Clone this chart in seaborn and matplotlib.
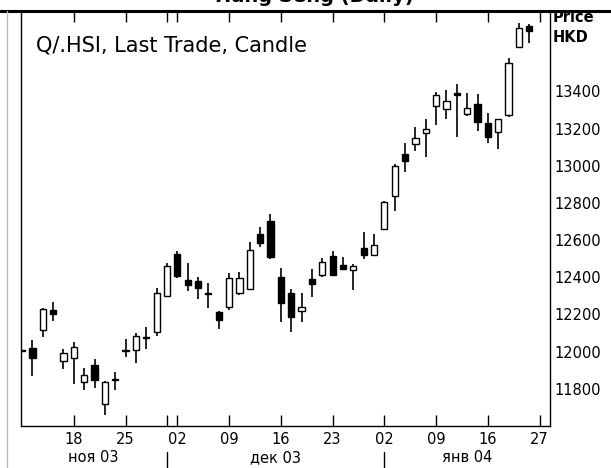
import matplotlib
matplotlib.use("Agg")
import matplotlib.pyplot as plt
import matplotlib.transforms as mtransforms
from matplotlib.lines import Line2D
import pandas as pd
import seaborn as sns

# trading days shown on the axis (last one has no candle yet)
trading_days = [
    "2003-11-11", "2003-11-12", "2003-11-13", "2003-11-14", "2003-11-17",
    "2003-11-18", "2003-11-19", "2003-11-20", "2003-11-21", "2003-11-24",
    "2003-11-25", "2003-11-26", "2003-11-27", "2003-11-28",
    "2003-12-01", "2003-12-02", "2003-12-03", "2003-12-04", "2003-12-05",
    "2003-12-08", "2003-12-09", "2003-12-10", "2003-12-11", "2003-12-12",
    "2003-12-15", "2003-12-16", "2003-12-17", "2003-12-18", "2003-12-19",
    "2003-12-22", "2003-12-23", "2003-12-24", "2003-12-29", "2003-12-30",
    "2003-12-31",
    "2004-01-02", "2004-01-05", "2004-01-06", "2004-01-07", "2004-01-08",
    "2004-01-09", "2004-01-12", "2004-01-13", "2004-01-14", "2004-01-15",
    "2004-01-16", "2004-01-19", "2004-01-20", "2004-01-21", "2004-01-26",
    "2004-01-27",
]

opens = [12006, 12021, 12115, 12226, 11952, 11968, 11839, 11930, 11717, 11855,
         12008, 12009, 12073, 12104, 12301, 12525, 12385, 12378, 12314, 12215,
         12242, 12314, 12339, 12631, 12704, 12403, 12314, 12220, 12389, 12412,
         12516, 12466, 12439, 12557, 12521, 12658, 12839, 13061, 13117, 13174,
         13321, 13303, 13390, 13278, 13332, 13228, 13181, 13273, 13640, 13751]
highs = [12009, 12063, 12235, 12267, 12013, 12054, 11914, 11959, 11842, 11891,
         12070, 12102, 12134, 12341, 12475, 12543, 12478, 12403, 12371, 12217,
         12421, 12430, 12591, 12672, 12739, 12452, 12335, 12314, 12445, 12502,
         12543, 12511, 12470, 12642, 12633, 12810, 13007, 13120, 13210, 13250,
         13398, 13407, 13439, 13389, 13384, 13285, 13252, 13577, 13770, 13762]
lows = [12002, 11869, 12081, 12163, 11909, 11826, 11794, 11803, 11658, 11794,
        11973, 11941, 12013, 12086, 12298, 12395, 12324, 12283, 12233, 12120,
        12224, 12305, 12332, 12561, 12497, 12161, 12104, 12161, 12292, 12400,
        12412, 12439, 12332, 12496, 12520, 12655, 12756, 12968, 13081, 13048,
        13219, 13251, 13156, 13267, 13188, 13124, 13088, 13260, 13635, 13661]
closes = [12004, 11966, 12231, 12203, 11995, 12027, 11873, 11846, 11839, 11848,
          12002, 12084, 12077, 12314, 12461, 12407, 12356, 12342, 12310, 12170,
          12395, 12395, 12548, 12584, 12511, 12260, 12185, 12242, 12364, 12484,
          12414, 12445, 12461, 12520, 12574, 12803, 13000, 13025, 13151, 13199,
          13380, 13348, 13380, 13312, 13236, 13156, 13249, 13554, 13740, 13726]

tick_days = ["2003-11-18", "2003-11-25", "2003-12-02", "2003-12-09", "2003-12-16",
             "2003-12-23", "2004-01-02", "2004-01-09", "2004-01-16", "2004-01-27"]
tick_labels = ["18", "25", "02", "09", "16", "23", "02", "09", "16", "27"]
month_labels = ["ноя 03", "дек 03", "янв 04"]
price_ticks = [11800, 12000, 12200, 12400, 12600, 12800, 13000, 13200, 13400]

df = pd.DataFrame({"open": opens, "high": highs, "low": lows, "close": closes})
df["date"] = pd.to_datetime(trading_days[:len(opens)])
df["pos"] = range(len(df))
df["up"] = df["close"] >= df["open"]

sns.set_theme(style="white")
plt.rcParams["font.family"] = ["DejaVu Sans"]

W, H = 611, 468
fig = plt.figure(figsize=(W / 100, H / 100), dpi=100)
fig.patch.set_facecolor("white")
ax = fig.add_axes([20.5 / W, (H - 426) / H, (550 - 20.5) / W, (426 - 11) / H])
ax.set_facecolor("white")

# wicks
ax.vlines(df["pos"], df["low"], df["high"], color="black", lw=1.2, zorder=2)
# bodies
body_h = (df["close"] - df["open"]).abs().clip(lower=3)
body_b = df[["open", "close"]].min(axis=1)
ax.bar(df["pos"], body_h, bottom=body_b, width=0.6,
       color=["white" if u else "black" for u in df["up"]],
       edgecolor="black", linewidth=1.0, zorder=3)

ax.set_xlim(-0.15, 51.0)
ax.set_ylim(11600, 13832)

day_index = {d: i for i, d in enumerate(trading_days)}
ax.set_xticks([day_index[d] for d in tick_days])
ax.set_xticklabels(tick_labels, fontsize=10.5, color="black")
month_starts = [i for i in range(1, len(trading_days))
                if trading_days[i][:7] != trading_days[i - 1][:7]]
ax.set_xticks(month_starts, minor=True)
ax.tick_params(axis="x", which="both", direction="in", length=8, width=1,
               top=True, bottom=True, color="black", pad=4)

ax.yaxis.tick_right()
ax.set_yticks(price_ticks)
ax.set_yticklabels([str(v) for v in price_ticks], fontsize=10.5, color="black")
ax.tick_params(axis="y", length=0, pad=3, left=False, right=True)

for side in ["left", "right", "bottom"]:
    ax.spines[side].set_color("black")
    ax.spines[side].set_linewidth(1.0)
ax.spines["top"].set_visible(False)

# month labels and separators under the day labels
trans = mtransforms.blended_transform_factory(ax.transData, ax.transAxes)
edges = [-0.15] + month_starts + [51.0]
for k, lab in enumerate(month_labels):
    ax.text((edges[k] + edges[k + 1]) / 2, -0.077, lab, transform=trans,
            ha="center", va="center", fontsize=10.5, color="black")
for m in month_starts:
    ax.plot([m, m], [-0.063, -0.11], transform=trans, color="black",
            lw=1.0, clip_on=False)

# frame pieces outside the axes
fig.add_artist(Line2D([0, 1], [1 - 11 / H] * 2, transform=fig.transFigure,
                      color="black", lw=2.2))
fig.add_artist(Line2D([7 / W] * 2, [0, 1 - 11 / H], transform=fig.transFigure,
                      color="#b8b8b8", lw=1.0))

# chart caption, cut by the top edge as in the original window grab
fig.text(0.515, 1 - 2 / H, "Hang Seng (Daily)", ha="center", va="baseline",
         fontsize=14, fontweight="bold", color="black")
fig.text(36 / W, 1 - 46 / H, "Q/.HSI, Last Trade, Candle", ha="left",
         va="center", fontsize=15, color="black")
fig.text(553 / W, 1 - 18 / H, "Price", ha="left", va="center",
         fontsize=10.5, fontweight="bold", color="black")
fig.text(553 / W, 1 - 37 / H, "HKD", ha="left", va="center",
         fontsize=10.5, fontweight="bold", color="black")

fig.savefig("out.png", dpi=100)
